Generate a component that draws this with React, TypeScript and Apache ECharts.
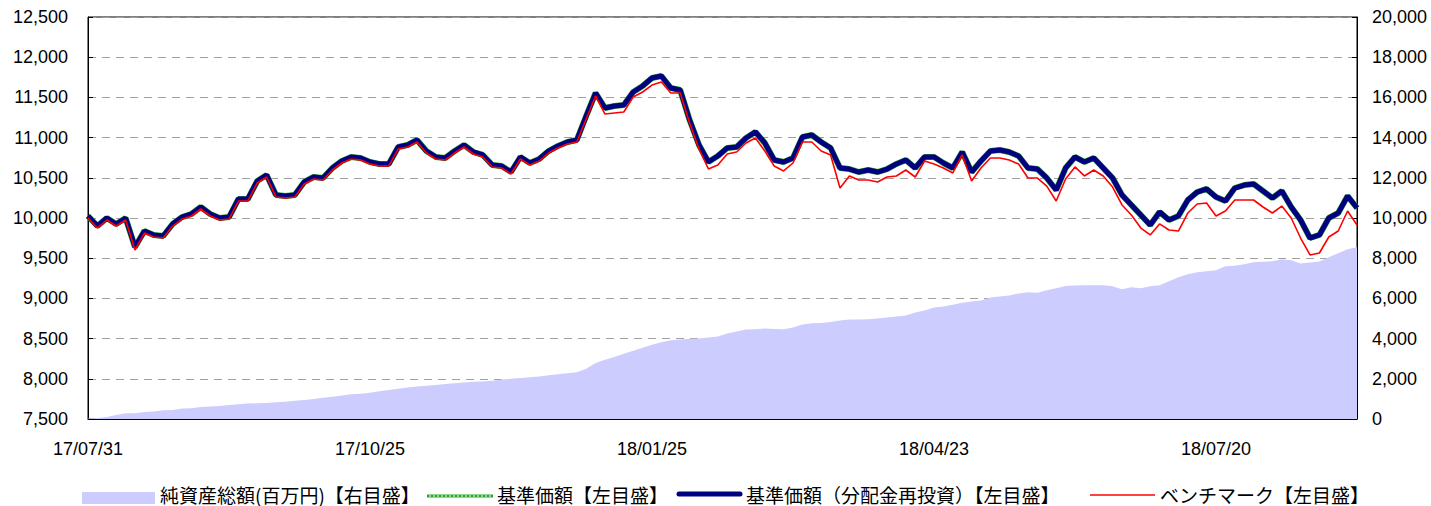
import React, { useEffect, useRef } from "react";
import * as echarts from "echarts";

// Tick labels on the category axis (every 30th point)
const tickLabels = ["17/07/31", "17/10/25", "18/01/25", "18/04/23", "18/07/20"];
const labelStep = 30;

// 基準価額（分配金再投資）
const navReinvested = [
  10025, 9900, 10000, 9925, 10000, 9639, 9838, 9789, 9776, 9925,
  10012, 10050, 10137, 10050, 10000, 10012, 10236, 10236, 10460, 10535,
  10286, 10274, 10286, 10448, 10510, 10497, 10622, 10709, 10759, 10746,
  10697, 10672, 10672, 10883, 10908, 10970, 10833, 10759, 10746, 10833,
  10908, 10821, 10784, 10659, 10647, 10572, 10759, 10684, 10734, 10833,
  10896, 10945, 10970, 11269, 11555, 11368, 11393, 11405, 11567, 11642,
  11741, 11766, 11617, 11592, 11219, 10908, 10697, 10771, 10871, 10883,
  10995, 11070, 10933, 10721, 10697, 10746, 11007, 11032, 10945, 10871,
  10622, 10609, 10572, 10597, 10572, 10609, 10672, 10721, 10622, 10759,
  10759, 10684, 10622, 10821, 10572, 10709, 10833, 10846, 10821, 10771,
  10622, 10609, 10497, 10348, 10622, 10759, 10697, 10746, 10622, 10497,
  10286, 10162, 10037, 9913, 10075, 9975, 10025, 10224, 10323, 10361,
  10261, 10211, 10373, 10410, 10423, 10336, 10249, 10336, 10137, 9975,
  9751, 9789, 10000, 10062, 10274, 10124,
];

// 基準価額 (no distributions paid, so identical to the reinvested series)
const navPrice = [
  10025, 9900, 10000, 9925, 10000, 9639, 9838, 9789, 9776, 9925,
  10012, 10050, 10137, 10050, 10000, 10012, 10236, 10236, 10460, 10535,
  10286, 10274, 10286, 10448, 10510, 10497, 10622, 10709, 10759, 10746,
  10697, 10672, 10672, 10883, 10908, 10970, 10833, 10759, 10746, 10833,
  10908, 10821, 10784, 10659, 10647, 10572, 10759, 10684, 10734, 10833,
  10896, 10945, 10970, 11269, 11555, 11368, 11393, 11405, 11567, 11642,
  11741, 11766, 11617, 11592, 11219, 10908, 10697, 10771, 10871, 10883,
  10995, 11070, 10933, 10721, 10697, 10746, 11007, 11032, 10945, 10871,
  10622, 10609, 10572, 10597, 10572, 10609, 10672, 10721, 10622, 10759,
  10759, 10684, 10622, 10821, 10572, 10709, 10833, 10846, 10821, 10771,
  10622, 10609, 10497, 10348, 10622, 10759, 10697, 10746, 10622, 10497,
  10286, 10162, 10037, 9913, 10075, 9975, 10025, 10224, 10323, 10361,
  10261, 10211, 10373, 10410, 10423, 10336, 10249, 10336, 10137, 9975,
  9751, 9789, 10000, 10062, 10274, 10124,
];

// ベンチマーク
const benchmark = [
  10000, 9875, 9975, 9900, 9975, 9602, 9813, 9764, 9751, 9900,
  9987, 10025, 10112, 10025, 9975, 9987, 10211, 10211, 10435, 10510,
  10261, 10249, 10261, 10423, 10485, 10472, 10597, 10684, 10734, 10721,
  10672, 10647, 10647, 10858, 10883, 10945, 10808, 10734, 10721, 10808,
  10883, 10796, 10759, 10634, 10622, 10547, 10734, 10659, 10709, 10808,
  10871, 10920, 10945, 11232, 11518, 11293, 11306, 11318, 11505, 11567,
  11654, 11691, 11555, 11555, 11182, 10858, 10610, 10659, 10796, 10821,
  10933, 10995, 10833, 10646, 10585, 10684, 10945, 10945, 10833, 10784,
  10373, 10522, 10472, 10473, 10448, 10509, 10523, 10597, 10510, 10709,
  10672, 10622, 10560, 10784, 10460, 10622, 10746, 10746, 10721, 10671,
  10498, 10497, 10397, 10211, 10485, 10635, 10523, 10597, 10522, 10385,
  10162, 10038, 9875, 9789, 9926, 9851, 9838, 10062, 10174, 10187,
  10025, 10087, 10224, 10223, 10224, 10137, 10062, 10149, 10000, 9751,
  9540, 9565, 9764, 9838, 10087, 9913,
];

// 純資産総額（百万円）
const netAssets = [
  20, 50, 100, 200, 280, 290, 350, 370, 440, 450,
  520, 530, 600, 620, 650, 700, 730, 770, 780, 800,
  830, 860, 910, 940, 1000, 1060, 1110, 1170, 1230, 1260,
  1310, 1380, 1440, 1510, 1570, 1620, 1650, 1690, 1740, 1780,
  1810, 1850, 1870, 1900, 1960, 2000, 2040, 2080, 2120, 2180,
  2230, 2270, 2320, 2500, 2780, 2950, 3080, 3250, 3400, 3550,
  3700, 3820, 3920, 3960, 3990, 4000, 4050, 4100, 4250, 4350,
  4450, 4470, 4500, 4480, 4460, 4550, 4700, 4760, 4780, 4830,
  4900, 4950, 4950, 4960, 5000, 5050, 5100, 5150, 5300, 5400,
  5550, 5600, 5680, 5780, 5850, 5900, 6050, 6100, 6150, 6250,
  6300, 6280, 6400, 6500, 6620, 6640, 6650, 6660, 6660, 6600,
  6450, 6550, 6500, 6600, 6650, 6850, 7050, 7200, 7300, 7350,
  7400, 7600, 7620, 7700, 7800, 7820, 7850, 7950, 7900, 7740,
  7780, 7830, 8050, 8250, 8450, 8550,
];

const seriesNames = [
  "純資産総額(百万円)【右目盛】",
  "基準価額【左目盛】",
  "基準価額（分配金再投資）【左目盛】",
  "ベンチマーク【左目盛】",
];

const AREA = "#ccccff";
const GREEN = "#33a033";
const NAVY = "#000080";
const RED = "#ff0000";

const categories = navReinvested.map((_, i) =>
  i % labelStep === 0 ? tickLabels[i / labelStep] ?? "" : ""
);

const fmt = (v: number) => v.toLocaleString("en-US");

export default function App() {
  const ref = useRef<HTMLDivElement>(null);
  useEffect(() => {
    if (!ref.current) return;
    const chart = echarts.init(ref.current, null, { renderer: "svg" });
    const font = "'Liberation Sans', Arial, sans-serif";
    const legendFont = "19px 'Noto Sans CJK JP', sans-serif";
    const textY = 494;
    const legendText = (x: number, text: string) => ({
      type: "text",
      x,
      y: textY,
      silent: true,
      style: { text, font: legendFont, fill: "#000", verticalAlign: "middle", align: "left" },
    });
    chart.setOption({
      animation: false,
      backgroundColor: "#ffffff",
      textStyle: { fontFamily: font },
      grid: {
        left: 88,
        right: 74,
        top: 17,
        bottom: 87,
        show: true,
        borderColor: "#000",
        borderWidth: 1,
        containLabel: false,
      },
      graphic: [
        { type: "rect", silent: true, shape: { x: 82, y: 492, width: 73, height: 12 }, style: { fill: AREA } },
        legendText(160, seriesNames[0]),
        { type: "rect", silent: true, shape: { x: 427, y: 494, width: 66, height: 4 }, style: { fill: "#8fd88f" } },
        {
          type: "line",
          silent: true,
          shape: { x1: 427, y1: 496, x2: 493, y2: 496 },
          style: { stroke: GREEN, lineWidth: 2, lineDash: [2, 2] },
        },
        legendText(497, seriesNames[1]),
        {
          type: "line",
          silent: true,
          shape: { x1: 679, y1: 494, x2: 740, y2: 494 },
          style: { stroke: NAVY, lineWidth: 5, lineCap: "round" },
        },
        legendText(746, seriesNames[2]),
        {
          type: "line",
          silent: true,
          shape: { x1: 1090, y1: 495, x2: 1155, y2: 495 },
          style: { stroke: RED, lineWidth: 1.5 },
        },
        legendText(1160, seriesNames[3]),
      ],
      xAxis: {
        type: "category",
        data: categories,
        boundaryGap: false,
        axisLine: { lineStyle: { color: "#000", width: 1 } },
        axisTick: {
          inside: true,
          length: 5,
          interval: labelStep - 1,
          lineStyle: { color: "#000" },
        },
        axisLabel: {
          interval: labelStep - 1,
          fontSize: 18,
          color: "#000",
          margin: 21,
          fontFamily: font,
        },
        splitLine: { show: false },
      },
      yAxis: [
        {
          type: "value",
          min: 7500,
          max: 12500,
          interval: 500,
          position: "left",
          axisLine: { show: true, lineStyle: { color: "#000" } },
          axisTick: { show: true, inside: true, length: 5, lineStyle: { color: "#000" } },
          axisLabel: { fontSize: 18, color: "#000", margin: 20, formatter: fmt, fontFamily: font },
          splitLine: {
            show: true,
            lineStyle: { color: "#a0a0a0", type: [8, 6], width: 1 },
          },
        },
        {
          type: "value",
          min: 0,
          max: 20000,
          interval: 2000,
          position: "right",
          axisLine: { show: true, lineStyle: { color: "#000" } },
          axisTick: { show: true, inside: true, length: 5, lineStyle: { color: "#000" } },
          axisLabel: { fontSize: 18, color: "#000", margin: 15, formatter: fmt, fontFamily: font },
          splitLine: { show: false },
        },
      ],
      series: [
        {
          name: seriesNames[0],
          type: "line",
          yAxisIndex: 1,
          data: netAssets,
          symbol: "none",
          lineStyle: { width: 0, color: AREA },
          itemStyle: { color: AREA },
          areaStyle: { color: AREA, opacity: 1 },
          z: 1,
        },
        {
          name: seriesNames[1],
          type: "line",
          yAxisIndex: 0,
          data: navPrice,
          symbol: "none",
          lineStyle: { width: 6, color: GREEN },
          itemStyle: { color: GREEN },
          z: 2,
        },
        {
          name: seriesNames[2],
          type: "line",
          yAxisIndex: 0,
          data: navReinvested,
          symbol: "none",
          lineStyle: { width: 5, color: NAVY },
          itemStyle: { color: NAVY },
          z: 3,
        },
        {
          name: seriesNames[3],
          type: "line",
          yAxisIndex: 0,
          data: benchmark,
          symbol: "none",
          lineStyle: { width: 1.6, color: RED },
          itemStyle: { color: RED },
          z: 4,
        },
      ],
    });
    return () => chart.dispose();
  }, []);
  return (
    <div
      ref={ref}
      style={{ position: "fixed", left: 0, top: 0, width: 1431, height: 506, background: "#fff" }}
    />
  );
}
